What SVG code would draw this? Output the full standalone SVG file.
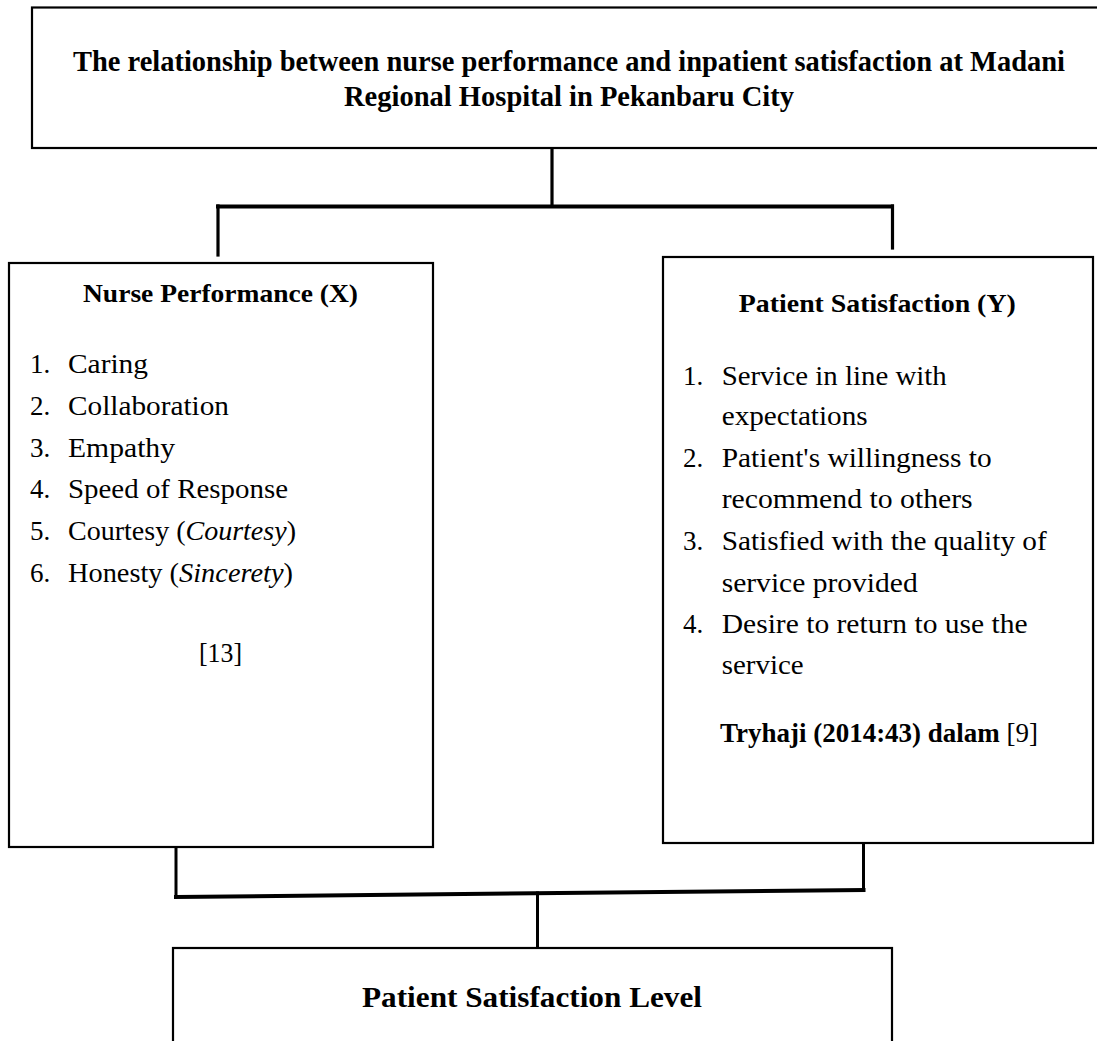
<svg xmlns="http://www.w3.org/2000/svg" width="1097" height="1041" viewBox="0 0 1097 1041">
<style>
.box{fill:#fff;stroke:#000;stroke-width:2.2}
.con{fill:none;stroke:#000;stroke-linecap:square}
text{font-family:"Liberation Serif","Times New Roman",serif;fill:#000}
.b{font-weight:bold}
.t{font-size:28.5px;font-weight:bold}
.h{font-size:26px;font-weight:bold}
.r{font-size:27px}
.i{font-style:italic}
</style>
<rect x="0" y="0" width="1097" height="1041" fill="#fff"/>
<g id="connectors">
<path class="con" d="M552 148 V206" stroke-width="3.2"/>
<path class="con" d="M218 206.5 H892" stroke-width="4"/>
<path class="con" d="M218 206 V255" stroke-width="3.2"/>
<path class="con" d="M892.5 206 V248" stroke-width="3.2"/>
<path class="con" d="M176 847 V896" stroke-width="3"/>
<path class="con" d="M176 897 L863.5 890" stroke-width="4"/>
<path class="con" d="M863.5 841 V890" stroke-width="3"/>
<path class="con" d="M537.5 893 V947" stroke-width="3"/>
</g>
<g id="top">
<rect class="box" x="32" y="7.5" width="1090" height="140.5"/>
<text class="t" x="569" y="70.7" text-anchor="middle" textLength="992" lengthAdjust="spacingAndGlyphs">The relationship between nurse performance and inpatient satisfaction at Madani</text>
<text class="t" x="569" y="106" text-anchor="middle" textLength="450" lengthAdjust="spacingAndGlyphs">Regional Hospital in Pekanbaru City</text>
</g>
<g id="nurse">
<rect class="box" x="9" y="263" width="424" height="584"/>
<text class="h" x="220.5" y="301.7" text-anchor="middle" textLength="275" lengthAdjust="spacingAndGlyphs">Nurse Performance (X)</text>
<g class="r">
<text x="30" y="373.3">1.</text><text x="68" y="373.3" textLength="80" lengthAdjust="spacingAndGlyphs">Caring</text>
<text x="30" y="415">2.</text><text x="68" y="415" textLength="161" lengthAdjust="spacingAndGlyphs">Collaboration</text>
<text x="30" y="456.7">3.</text><text x="68" y="456.7" textLength="107" lengthAdjust="spacingAndGlyphs">Empathy</text>
<text x="30" y="498.3">4.</text><text x="68" y="498.3" textLength="220" lengthAdjust="spacingAndGlyphs">Speed of Response</text>
<text x="30" y="540">5.</text><text x="68" y="540" textLength="228" lengthAdjust="spacingAndGlyphs">Courtesy (<tspan class="i">Courtesy</tspan>)</text>
<text x="30" y="581.5">6.</text><text x="68" y="581.5" textLength="225" lengthAdjust="spacingAndGlyphs">Honesty (<tspan class="i">Sincerety</tspan>)</text>
<text x="220.5" y="661.7" text-anchor="middle" textLength="43" lengthAdjust="spacingAndGlyphs">[13]</text>
</g>
</g>
<g id="patient">
<rect class="box" x="663" y="257" width="430" height="586"/>
<text class="h" x="877.3" y="311.7" text-anchor="middle" textLength="277" lengthAdjust="spacingAndGlyphs">Patient Satisfaction (Y)</text>
<g class="r">
<text x="683" y="385">1.</text><text x="721.7" y="385" textLength="225" lengthAdjust="spacingAndGlyphs">Service in line with</text>
<text x="721.7" y="425" textLength="146" lengthAdjust="spacingAndGlyphs">expectations</text>
<text x="683" y="466.7">2.</text><text x="721.7" y="466.7" textLength="270" lengthAdjust="spacingAndGlyphs">Patient's willingness to</text>
<text x="721.7" y="508.3" textLength="251" lengthAdjust="spacingAndGlyphs">recommend to others</text>
<text x="683" y="550">3.</text><text x="721.7" y="550" textLength="325" lengthAdjust="spacingAndGlyphs">Satisfied with the quality of</text>
<text x="721.7" y="591.7" textLength="196" lengthAdjust="spacingAndGlyphs">service provided</text>
<text x="683" y="633.3">4.</text><text x="721.7" y="633.3" textLength="306" lengthAdjust="spacingAndGlyphs">Desire to return to use the</text>
<text x="721.7" y="674" textLength="82" lengthAdjust="spacingAndGlyphs">service</text>
<text x="720" y="741.7" textLength="318" lengthAdjust="spacingAndGlyphs"><tspan class="b">Tryhaji (2014:43) dalam</tspan> [9]</text>
</g>
</g>
<g id="level">
<rect class="box" x="173" y="948" width="719" height="110"/>
<text class="t" x="532" y="1007.3" text-anchor="middle" textLength="340" lengthAdjust="spacingAndGlyphs">Patient Satisfaction Level</text>
</g>
</svg>
